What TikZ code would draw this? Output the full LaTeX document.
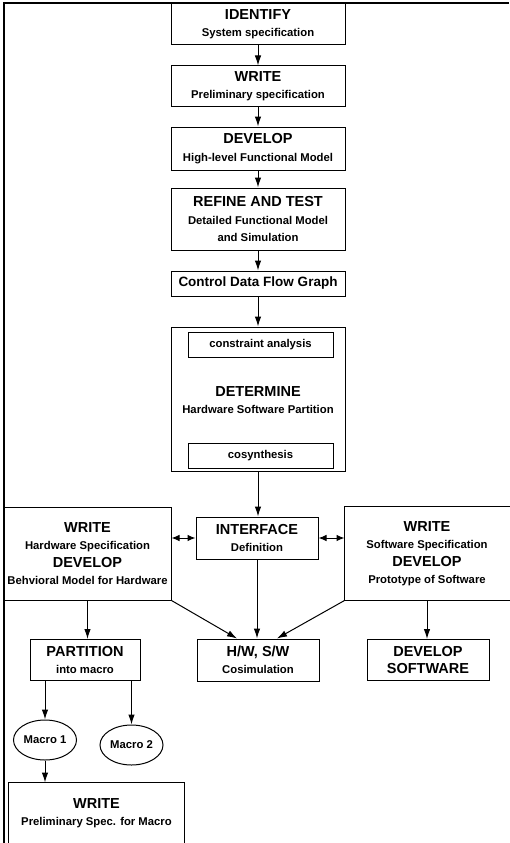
\documentclass[tikz,border=0pt]{standalone}
\usepackage{fontspec}
\setmainfont{Liberation Sans}
\usetikzlibrary{arrows.meta, shapes.geometric}
\newcommand{\boxtitle}[1]{{\fontsize{14.5}{17.5}\selectfont #1}}

\begin{document}
\begin{tikzpicture}[x=1pt, y=-1pt, line width=1pt,
	every node/.style={font=\bfseries\fontsize{11.3}{17.5}\selectfont, align=center, inner sep=0pt},
	box/.style={draw, minimum width=174pt},
	inbox/.style={draw, minimum width=145pt, minimum height=25pt},
	macro/.style={draw, ellipse, minimum width=63pt, minimum height=40pt},
	arr/.style={-{Latex[length=10pt,width=6.5pt]}},
	dblarr/.style={{Latex[length=8pt,width=6.5pt]}-{Latex[length=8pt,width=6.5pt]}}]
				\useasboundingbox (0,0) rectangle (509,843);
				\draw[line width=1.6pt] (4,843) -- (4,3) -- (509,3);

				\node[box, minimum height=41pt] (identify) at (258,24) {\boxtitle{IDENTIFY}\\System specification};
				\node[box, minimum height=40pt] (prelim) at (258,86) {\boxtitle{WRITE}\\Preliminary specification};
				\node[box, minimum height=43pt] (hlmodel) at (258,148.5) {\boxtitle{DEVELOP}\\High-level Functional Model};
				\node[box, minimum height=62pt] (refine) at (258,219) {\boxtitle{REFINE AND TEST}\\Detailed Functional Model\\and Simulation};
				\node[box, minimum height=25pt, font=\bfseries\fontsize{13.5}{16}\selectfont] (cdfg) at (258,283.5) {Control Data Flow Graph};

				\node[box, minimum height=144pt] (determine) at (258,399) {};
				\node[inbox] (constraint) at (260.5,345) {constraint analysis};
				\node (detlabel) at (258,400) {\boxtitle{DETERMINE}\\Hardware Software Partition};
				\node[inbox] (cosyn) at (260.5,455.5) {cosynthesis};

				\node[box, minimum width=167pt, minimum height=93pt] (hwspec) at (87.5,553.5)
				{\boxtitle{WRITE}\\Hardware Specification\\\boxtitle{DEVELOP}\\Behvioral Model for Hardware};
				\node[box, draw=none, minimum width=164pt, minimum height=93pt] (swspec) at (427,553.5)
				{\boxtitle{WRITE}\\Software Specification\\\boxtitle{DEVELOP}\\Prototype of Software};
				\draw (swspec.north east) -- (swspec.north west) -- (swspec.south west) -- (swspec.south east);
				\node[box, minimum width=122pt, minimum height=42pt] (interface) at (257,538) {\boxtitle{INTERFACE}\\Definition};

				\node[box, minimum width=110pt, minimum height=41pt] (partition) at (85,660) {\boxtitle{PARTITION}\\into macro};
				\node[box, minimum width=122pt, minimum height=42pt] (cosim) at (258,660) {\boxtitle{H/W, S/W}\\Cosimulation};
				\node[box, minimum width=122pt, minimum height=41pt] (devsw) at (428,660) {\boxtitle{DEVELOP}\\\boxtitle{SOFTWARE}};

				\node[macro] (macroa) at (45,740) {Macro 1};
				\node[macro] (macrob) at (131.5,745) {Macro 2};

				\node[box, draw=none, minimum width=175pt, minimum height=60pt] (macrospec) at (96.5,813)
				{\boxtitle{WRITE}\\Preliminary Spec. for Macro};
				\draw (macrospec.south west) -- (macrospec.north west) -- (macrospec.north east) -- (macrospec.south east);

				\draw[arr] (identify) -- (prelim);
				\draw[arr] (prelim) -- (hlmodel);
				\draw[arr] (hlmodel) -- (refine);
				\draw[arr] (refine) -- (cdfg);
				\draw[arr] (cdfg) -- (determine);
				\draw[arr] (determine.south) -- (determine.south |- interface.north);

				\draw[dblarr] (interface.west -| hwspec.east) -- (interface.west);
				\draw[dblarr] (interface.east) -- (interface.east -| swspec.west);

				\draw[arr] (interface.south) -- (interface.south |- cosim.north);
				\draw[arr] (hwspec.south east) -- ([xshift=-21pt]cosim.north);
				\draw[arr] (swspec.south west) -- ([xshift=19pt]cosim.north);
				\draw[arr] (hwspec.south) -- (hwspec.south |- partition.north);
				\draw[arr] (swspec.south) -- (swspec.south |- devsw.north);

				\draw[arr] (macroa |- partition.south) -- (macroa.north);
				\draw[arr] (macrob |- partition.south) -- (macrob.north);
				\draw[arr] (macroa.south) -- (macroa.south |- macrospec.north);
\end{tikzpicture}
\end{document}
